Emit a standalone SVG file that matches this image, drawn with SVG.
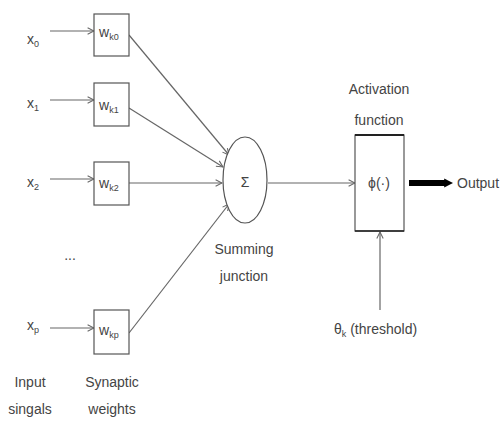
<svg xmlns="http://www.w3.org/2000/svg" width="500" height="428" viewBox="0 0 500 428">
<defs>
<style>
text{font-family:"Liberation Sans",Arial,sans-serif;font-size:14px;fill:#444;}
.c{text-anchor:middle;}
.sub{font-size:9px;}
.box{fill:#fff;stroke:#555;stroke-width:1.2;}
.ln{stroke:#666;stroke-width:1.2;fill:none;marker-end:url(#ah);}
</style>
<marker id="ah" viewBox="0 0 10 10" refX="9" refY="5" markerWidth="8" markerHeight="8" markerUnits="userSpaceOnUse" orient="auto">
<path d="M1,1 L9,5 L1,9" fill="none" stroke="#666" stroke-width="1.3"/>
</marker>
<marker id="big" viewBox="0 0 10 10" refX="2" refY="5" markerWidth="9" markerHeight="10" markerUnits="userSpaceOnUse" orient="auto">
<path d="M0,0 L10,5 L0,10 Z" fill="#000"/>
</marker>
</defs>
<rect width="500" height="428" fill="#fff"/>
<g id="connectors">
<line class="ln" x1="50" y1="31" x2="94" y2="31"/>
<line class="ln" x1="50" y1="100" x2="94" y2="100"/>
<line class="ln" x1="50" y1="179" x2="94" y2="179"/>
<line class="ln" x1="50" y1="328" x2="94" y2="328"/>
<line class="ln" x1="129" y1="35" x2="229" y2="155"/>
<line class="ln" x1="129" y1="108" x2="223" y2="167"/>
<line class="ln" x1="129" y1="183" x2="222" y2="183"/>
<line class="ln" x1="129" y1="333" x2="229" y2="204"/>
<line class="ln" x1="268" y1="183" x2="355" y2="183"/>
<line class="ln" x1="380" y1="310" x2="380" y2="232"/>
<line x1="409" y1="183" x2="446" y2="183" stroke="#000" stroke-width="6" marker-end="url(#big)"/>
</g>
<g id="x0"><text x="27" y="44">x<tspan class="sub" dy="3">0</tspan></text></g>
<g id="x1"><text x="27" y="108">x<tspan class="sub" dy="3">1</tspan></text></g>
<g id="x2"><text x="27" y="187">x<tspan class="sub" dy="3">2</tspan></text></g>
<g id="dots"><text x="70" y="260" class="c">...</text></g>
<g id="xp"><text x="27" y="330">x<tspan class="sub" dy="3">p</tspan></text></g>
<g id="wk0"><rect class="box" x="94" y="14" width="35" height="42"/><text x="99" y="37">w<tspan class="sub" dy="3">k0</tspan></text></g>
<g id="wk1"><rect class="box" x="94" y="83" width="35" height="43"/><text x="99" y="110">w<tspan class="sub" dy="3">k1</tspan></text></g>
<g id="wk2"><rect class="box" x="94" y="162" width="35" height="43"/><text x="99" y="188">w<tspan class="sub" dy="3">k2</tspan></text></g>
<g id="wkp"><rect class="box" x="94" y="310" width="35" height="44"/><text x="99" y="335">w<tspan class="sub" dy="3">kp</tspan></text></g>
<g id="sum"><ellipse cx="245" cy="180" rx="22" ry="43" fill="#fff" stroke="#555" stroke-width="1.2"/><text x="245" y="187" class="c">Σ</text>
<text x="244" y="254" class="c">Summing</text><text x="244" y="281" class="c">junction</text></g>
<g id="activation"><rect class="box" x="355" y="135" width="49" height="96"/><line x1="355" y1="135" x2="404" y2="135" stroke="#222" stroke-width="2"/><line x1="355" y1="231" x2="404" y2="231" stroke="#222" stroke-width="1.5"/>
<text x="379" y="94" class="c">Activation</text><text x="379" y="125" class="c">function</text>
<text x="379" y="188" class="c">ϕ(·)</text></g>
<g id="output"><text x="457" y="188">Output</text></g>
<g id="threshold"><text x="334" y="334">θ<tspan class="sub" dy="3">k</tspan><tspan dy="-3"> (threshold)</tspan></text></g>
<g id="labels"><text x="30" y="387" class="c">Input</text><text x="30" y="414" class="c">singals</text>
<text x="112" y="387" class="c">Synaptic</text><text x="112" y="414" class="c">weights</text></g>
</svg>
